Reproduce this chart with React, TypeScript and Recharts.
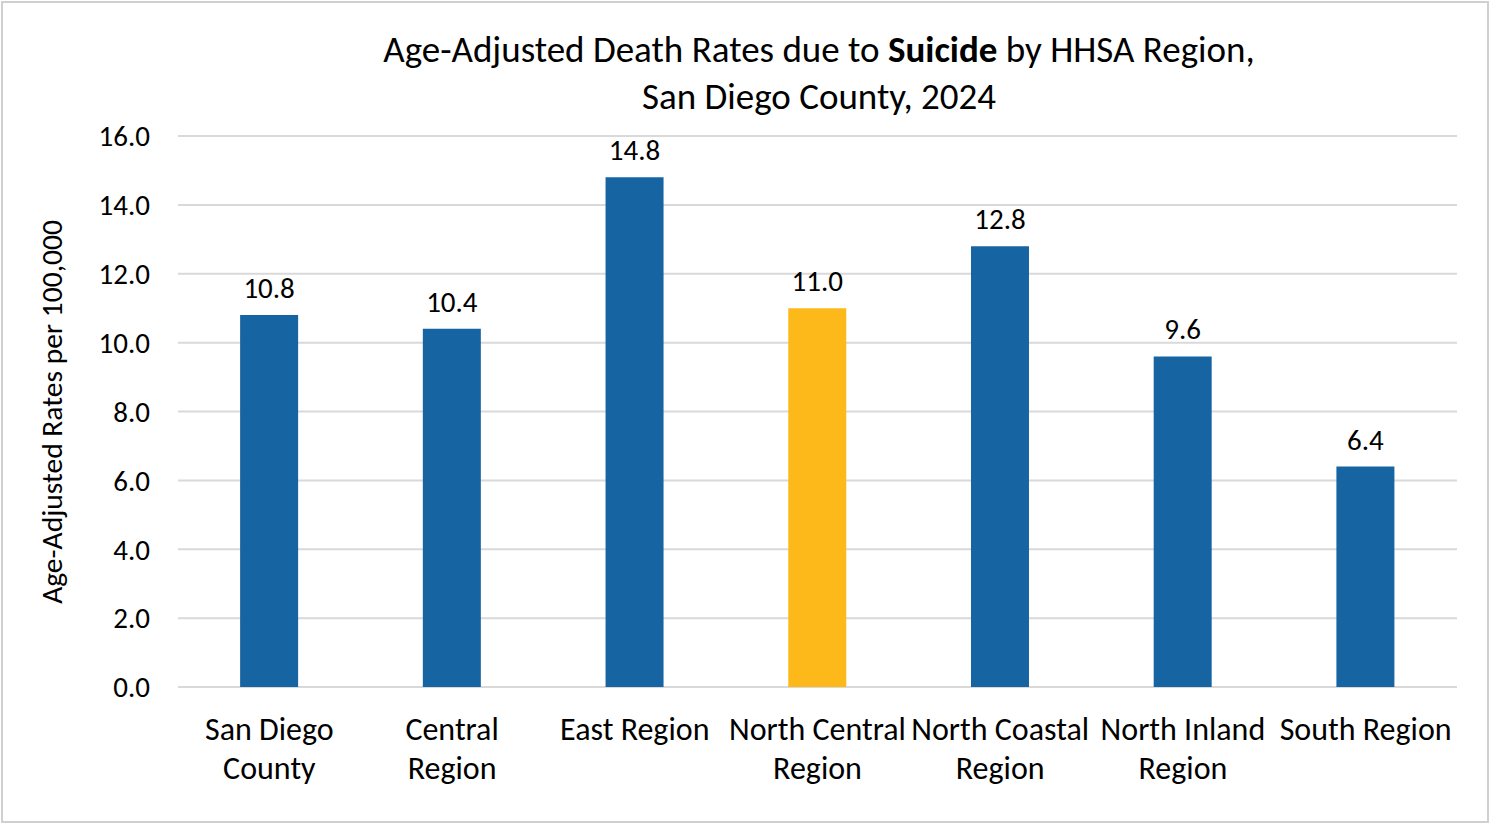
import React from "react"
import { BarChart, Bar, XAxis, YAxis, CartesianGrid, Cell, LabelList, Customized } from "recharts"

const regions = [
  "San Diego\nCounty",
  "Central\nRegion",
  "East Region",
  "North Central\nRegion",
  "North Coastal\nRegion",
  "North Inland\nRegion",
  "South Region",
]
const rates = [10.8, 10.4, 14.8, 11.0, 12.8, 9.6, 6.4]
const highlight = "North Central\nRegion"
const yTicks = [0, 2, 4, 6, 8, 10, 12, 14, 16]

const data = regions.map((r, i) => ({ region: r, rate: rates[i] }))

const FONT = "Carlito, Lato, 'Open Sans', sans-serif"
const BLUE = "#1764A2"
const GOLD = "#FDB81A"

function RegionTick(props: any) {
  const { x, y, payload } = props
  const lines = String(payload.value).split("\n")
  return (
    <text x={x} y={y} textAnchor="middle" fontFamily={FONT} fontSize={32} fill="#000">
      {lines.map((l, i) => (
        <tspan key={i} x={x} dy={i === 0 ? 45 : 39}>
          {l}
        </tspan>
      ))}
    </text>
  )
}

function Title() {
  return (
    <g fontFamily={FONT} fill="#000" fontSize={37}>
      <text x={819} y={62} textAnchor="middle">
        Age-Adjusted Death Rates due to <tspan fontWeight="bold">Suicide</tspan> by HHSA Region,
      </text>
      <text x={819} y={109} textAnchor="middle">
        San Diego County, 2024
      </text>
      <text
        x={0}
        y={0}
        transform="translate(62,412) rotate(-90)"
        textAnchor="middle"
        fontSize={29.5}
      >
        Age-Adjusted Rates per 100,000
      </text>
    </g>
  )
}

export default function App() {
  return (
    <div style={{ position: "absolute", left: 0, top: 0, width: 1491, height: 824, background: "#fff" }}>
      <div
        style={{
          position: "absolute",
          left: 1,
          top: 1,
          width: 1484,
          height: 818,
          border: "2px solid #d0d0d0",
          boxSizing: "content-box",
        }}
      />
      <BarChart
        width={1491}
        height={824}
        data={data}
        margin={{ top: 136, right: 34, bottom: 0, left: 0 }}
        barCategoryGap="34%"
      >
        <CartesianGrid horizontal vertical={false} stroke="#D9D9D9" strokeWidth={2} />
        <XAxis
          dataKey="region"
          tickLine={false}
          axisLine={false}
          interval={0}
          height={137}
          tick={<RegionTick />}
        />
        <YAxis
          width={178}
          domain={[0, 16]}
          ticks={yTicks}
          tickLine={false}
          axisLine={false}
          tickSize={0}
          tickMargin={28}
          tickFormatter={(v: number) => v.toFixed(1)}
          tick={{ fontFamily: FONT, fontSize: 29, fill: "#000" }}
        />
        <Bar dataKey="rate" isAnimationActive={false}>
          {data.map((d, i) => (
            <Cell key={i} fill={d.region === highlight ? GOLD : BLUE} />
          ))}
          <LabelList
            dataKey="rate"
            position="top"
            offset={17}
            formatter={(v: any) => Number(v).toFixed(1)}
            style={{ fontFamily: FONT, fontSize: 29, fill: "#000" }}
          />
        </Bar>
        <Customized component={Title} />
      </BarChart>
    </div>
  )
}
